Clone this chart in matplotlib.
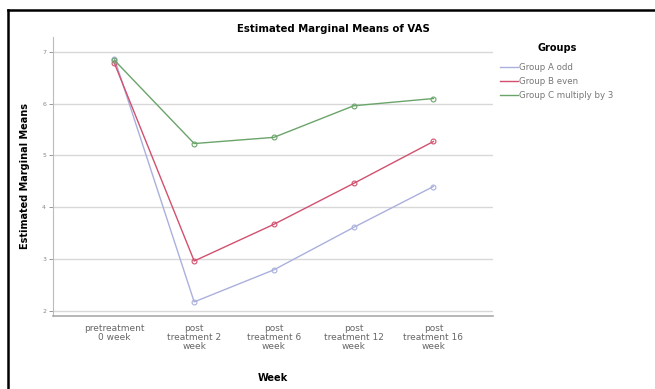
import matplotlib
matplotlib.use('Agg')
import matplotlib.pyplot as plt
from matplotlib.lines import Line2D

# Datos
semanas = ['pretreatment\n0 week', 'post\ntreatment 2\nweek', 'post\ntreatment 6\nweek',
           'post\ntreatment 12\nweek', 'post\ntreatment 16\nweek']
grupos = ['Group A odd', 'Group B even', 'Group C multiply by 3']
grupo_a = [6.87, 2.17, 2.79, 3.61, 4.40]
grupo_b = [6.78, 2.96, 3.67, 4.46, 5.27]
grupo_c = [6.84, 5.23, 5.35, 5.96, 6.10]
colores = ['#aab0dc', '#d2506e', '#6aa46a']

fig = plt.figure(figsize=(6.55, 3.89), dpi=100)
ax = fig.add_axes([0.081, 0.188, 0.672, 0.717])

x = list(range(len(semanas)))
for vals, col, nombre in zip([grupo_a, grupo_b, grupo_c], colores, grupos):
    ax.plot(x, vals, color=col, lw=1.0, marker='o', ms=3.5, mfc='none',
            mec=col, mew=0.8, label=nombre, zorder=3)

ax.set_xlim(-0.77, 4.75)
ax.set_ylim(1.9, 7.29)
ax.set_yticks([2, 3, 4, 5, 6, 7])
ax.set_xticks(x)
ax.set_xticklabels(semanas, fontsize=6.5, color='#666666', linespacing=1.0)
ax.tick_params(axis='y', labelsize=4.5, colors='#888888', length=3, width=0.6, pad=2)
ax.tick_params(axis='x', length=0, pad=6)
ax.grid(axis='y', color='#d8d8d8', lw=1.0)
ax.set_axisbelow(True)
for s in ['top', 'right']:
    ax.spines[s].set_visible(False)
ax.spines['left'].set_color('#bbbbbb')
ax.spines['bottom'].set_color('#aaaaaa')
ax.spines['bottom'].set_linewidth(1.2)

fig.text(333 / 655, 1 - 29 / 389, 'Estimated Marginal Means of VAS', fontsize=7.3,
         fontweight='bold', ha='center', va='center')
ax.set_ylabel('Estimated Marginal Means', fontsize=7, fontweight='bold', labelpad=9)
ax.set_xlabel('Week', fontsize=7, fontweight='bold', labelpad=16)

handles = [Line2D([0], [0], color=c, lw=1.0) for c in colores]
leg = fig.legend(handles, grupos, title='Groups', loc='upper left',
                 bbox_to_anchor=(0.752, 0.909), frameon=False, fontsize=6.2,
                 handlelength=2.0, handletextpad=0.15, labelspacing=0.6)
leg.get_title().set_fontweight('bold')
leg.get_title().set_fontsize(7)
leg._legend_box.sep = 7
for t in leg.get_texts():
    t.set_color('#777777')

# Marco negro de la captura
fig.add_artist(Line2D([8 / 655, 1], [1 - 10 / 389, 1 - 10 / 389], color='black', lw=1.8,
                      transform=fig.transFigure))
fig.add_artist(Line2D([8 / 655, 8 / 655], [0, 1 - 10 / 389], color='black', lw=1.8,
                      transform=fig.transFigure))

plt.savefig('out.png', dpi=100)
